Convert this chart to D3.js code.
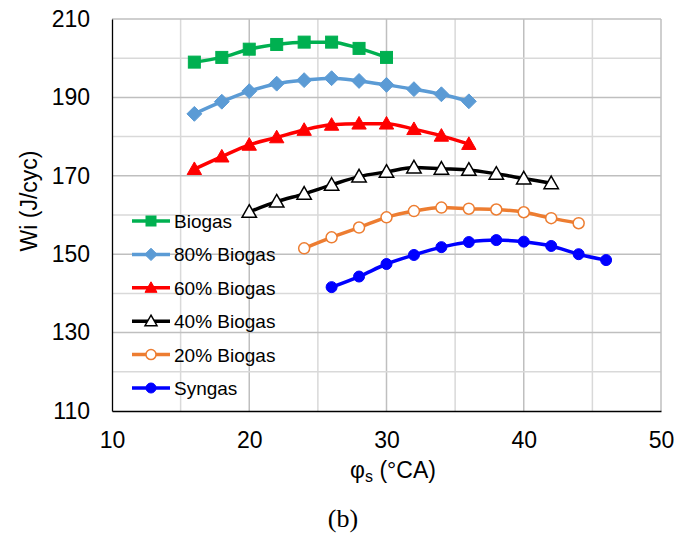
<!DOCTYPE html>
<html><head><meta charset="utf-8">
<script src="https://cdn.jsdelivr.net/npm/d3@7"></script>
<style>body{margin:0;background:#fff}svg{display:block}</style>
</head><body>
<svg id="chart" width="691" height="533"></svg>
<script>
const seriesNames = ["Biogas","80% Biogas","60% Biogas","40% Biogas","20% Biogas","Syngas"];
const xBiogas = [16,18,20,22,24,26,28,30];
const yBiogas = [199.0,200.2,202.3,203.5,204.1,204.1,202.5,200.2];
const x80 = [16,18,20,22,24,26,28,30,32,34,36];
const y80 = [185.8,188.9,191.6,193.5,194.4,194.9,194.2,193.2,192.1,190.8,189.0];
const x60 = [16,18,20,22,24,26,28,30,32,34,36];
const y60 = [171.7,174.9,177.9,179.8,181.7,183.0,183.3,183.3,181.9,180.2,178.1];
const x40 = [20,22,24,26,28,30,32,34,36,38,40,42];
const y40 = [160.8,163.4,165.4,167.7,169.8,171.0,172.1,171.8,171.5,170.5,169.3,168.1];
const x20 = [24,26,28,30,32,34,36,38,40,42,44];
const y20 = [151.5,154.3,156.8,159.4,161.0,161.9,161.6,161.4,160.7,159.2,157.9];
const xSyn = [26,28,30,32,34,36,38,40,42,44,46];
const ySyn = [141.6,144.3,147.5,149.8,151.8,153.1,153.6,153.2,152.1,150.0,148.5];
const xTicks = [10,20,30,40,50];
const yTicks = [110,130,150,170,190,210];

const styles = [
  {color:"#00B050", shape:"square", fill:true},
  {color:"#5B9BD5", shape:"diamond", fill:true},
  {color:"#FF0000", shape:"triangle", fill:true},
  {color:"#000000", shape:"triangle", fill:false},
  {color:"#ED7D31", shape:"circle", fill:false},
  {color:"#0000FF", shape:"circle", fill:true}
];
const xs = [xBiogas,x80,x60,x40,x20,xSyn];
const ys = [yBiogas,y80,y60,y40,y20,ySyn];
const series = seriesNames.map((n,i)=>({name:n, pts:xs[i].map((x,j)=>({x, y:ys[i][j]})), ...styles[i]}));

const svg = d3.select("#chart");
const L=112, R=661, T=19, B=411;
const x = d3.scaleLinear().domain([10,50]).range([L,R]);
const y = d3.scaleLinear().domain([110,210]).range([B,T]);
const font = "Liberation Sans, Arial, sans-serif";

// grid
const g = svg.append("g");
d3.range(15,50,10).forEach(v=>g.append("line").attr("x1",x(v)).attr("x2",x(v)).attr("y1",T).attr("y2",B).attr("stroke","#d9d9d9").attr("stroke-width",1.5));
d3.range(20,50,10).forEach(v=>g.append("line").attr("x1",x(v)).attr("x2",x(v)).attr("y1",T).attr("y2",B).attr("stroke","#bfbfbf").attr("stroke-width",1.5));
d3.range(120,210,20).forEach(v=>g.append("line").attr("y1",y(v)).attr("y2",y(v)).attr("x1",L).attr("x2",R).attr("stroke","#d9d9d9").attr("stroke-width",1.5));
d3.range(130,210,20).forEach(v=>g.append("line").attr("y1",y(v)).attr("y2",y(v)).attr("x1",L).attr("x2",R).attr("stroke","#bfbfbf").attr("stroke-width",1.5));
g.append("line").attr("x1",L).attr("x2",R).attr("y1",T).attr("y2",T).attr("stroke","#bfbfbf").attr("stroke-width",1.5);
g.append("line").attr("x1",R).attr("x2",R).attr("y1",T).attr("y2",B).attr("stroke","#bfbfbf").attr("stroke-width",1.5);

// axes
const xAxis = svg.append("g").attr("transform",`translate(0,${B})`)
  .call(d3.axisBottom(x).tickValues(xTicks).tickSize(0).tickPadding(21));
const yAxis = svg.append("g").attr("transform",`translate(${L},0)`)
  .call(d3.axisLeft(y).tickValues(yTicks).tickSize(0).tickPadding(22));
[xAxis,yAxis].forEach(a=>{
  a.select(".domain").attr("stroke","#000").attr("stroke-width",1.3);
  a.selectAll("text").attr("font-family",font).attr("font-size",23).attr("fill","#000");
});

// axis titles
const xt = svg.append("text").attr("x",393).attr("y",478).attr("text-anchor","middle")
  .attr("font-family",font).attr("font-size",23).attr("fill","#000");
xt.append("tspan").text("φ");
xt.append("tspan").text("s").attr("font-size",16).attr("dy",4);
xt.append("tspan").text(" (°CA)").attr("dy",-4);
svg.append("text").attr("transform","translate(37,201) rotate(-90)").attr("text-anchor","middle")
  .attr("font-family",font).attr("font-size",23).attr("fill","#000").text("Wi (J/cyc)");
svg.append("text").attr("x",343).attr("y",527).attr("text-anchor","middle")
  .attr("font-family","Liberation Serif, Times New Roman, serif").attr("font-size",26).attr("fill","#000").text("(b)");

function marker(sel, s, size){
  let m;
  if(s.shape==="square") m = sel.append("rect").attr("x",-size/2).attr("y",-size/2).attr("width",size).attr("height",size);
  else if(s.shape==="diamond") m = sel.append("path").attr("d",`M0,${-size*0.62}L${size*0.62},0L0,${size*0.62}L${-size*0.62},0Z`);
  else if(s.shape==="triangle") m = sel.append("path").attr("d",`M0,${-size*0.6}L${size*0.6},${size*0.45}L${-size*0.6},${size*0.45}Z`);
  else m = sel.append("circle").attr("r",size/2);
  if(s.fill) m.attr("fill",s.color).attr("stroke",s.color).attr("stroke-width",1);
  else m.attr("fill","#fff").attr("stroke",s.color).attr("stroke-width",1.5);
}

const line = d3.line().x(d=>x(d.x)).y(d=>y(d.y)).curve(d3.curveMonotoneX);
series.forEach(s=>{
  svg.append("path").datum(s.pts).attr("d",line).attr("fill","none").attr("stroke",s.color).attr("stroke-width",3.5);
  s.pts.forEach(p=>{
    const gg = svg.append("g").attr("transform",`translate(${x(p.x)},${y(p.y)})`);
    marker(gg, s, s.shape==="circle"?11:12);
  });
});

// legend
series.forEach((s,i)=>{
  const ly = 221 + i*33.4;
  const lg = svg.append("g");
  lg.append("line").attr("x1",132).attr("x2",170).attr("y1",ly).attr("y2",ly).attr("stroke",s.color).attr("stroke-width",3.5);
  const mg = lg.append("g").attr("transform",`translate(151,${ly})`);
  marker(mg, s, 10);
  lg.append("text").attr("x",174).attr("y",ly+7).attr("font-family",font).attr("font-size",19).attr("fill","#000").text(s.name);
});
</script>
</body></html>
